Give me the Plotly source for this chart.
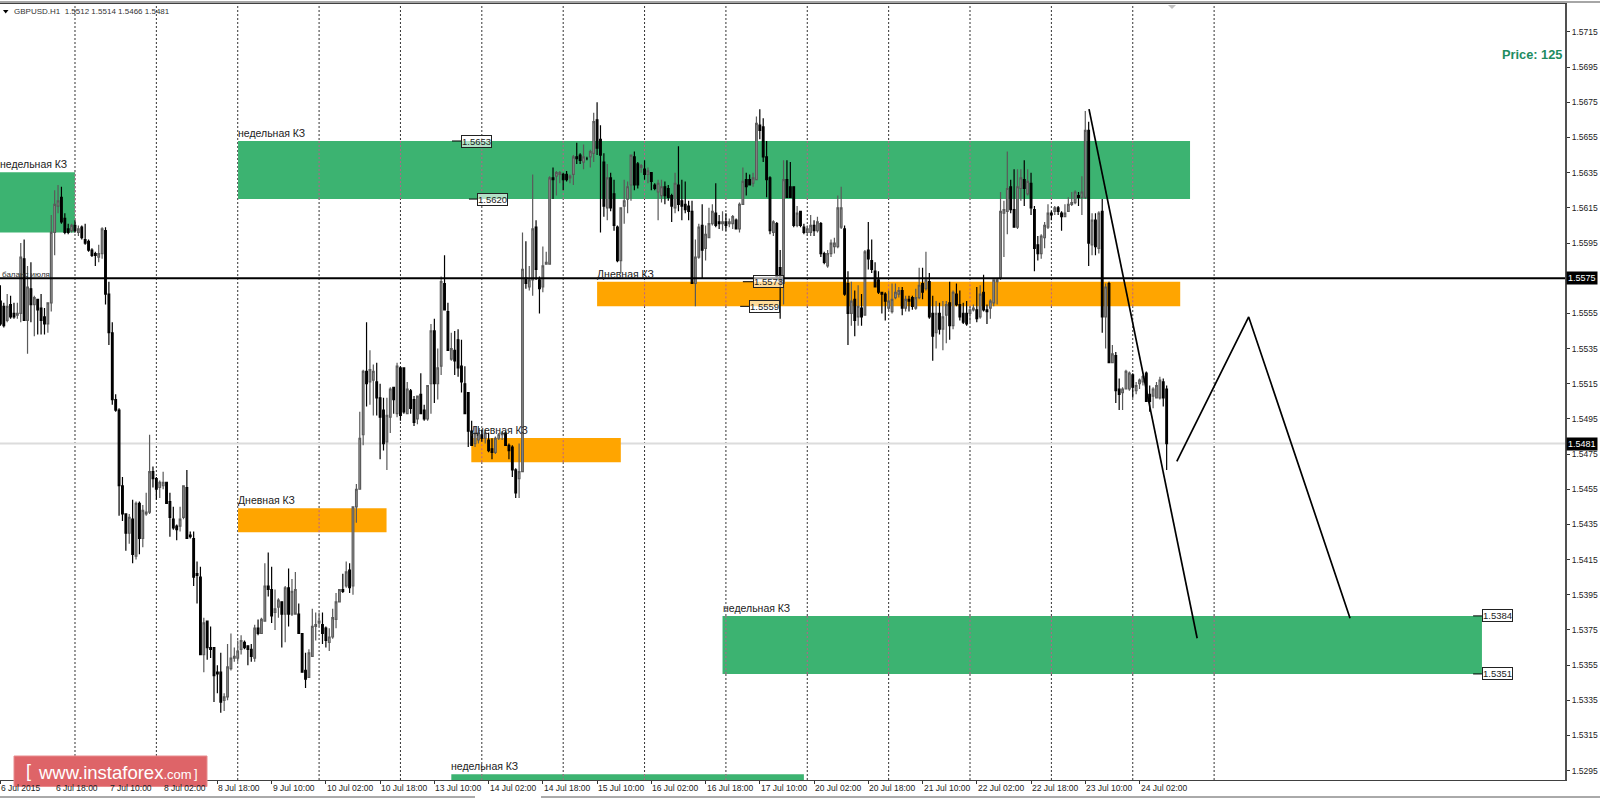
import plotly.graph_objects as go

# Candle values: price digits after the leading 1, e.g. 5562 means 1.5562
opens_raw = [
5562,5559,5551,5560,5555,5554,5555,5586,5551,5569,5560,5563,5558,5553,5549,5561,5601,5616,5621,5609,
5603,5602,5605,5601,5604,5597,5596,5591,5589,5587,5589,5602,5566,5544,5506,5500,5457,5441,5430,5438,
5417,5447,5427,5441,5442,5465,5461,5456,5457,5459,5448,5438,5434,5434,5439,5456,5429,5427,5407,5405,
5361,5380,5365,5365,5351,5351,5335,5337,5353,5359,5359,5364,5368,5366,5364,5359,5376,5373,5380,5400,
5398,5385,5388,5391,5384,5399,5384,5384,5384,5373,5352,5348,5360,5377,5379,5378,5376,5368,5371,5381,
5391,5398,5400,5409,5400,5445,5455,5486,5522,5516,5517,5516,5507,5500,5482,5496,5513,5498,5524,5524,
5498,5511,5506,5495,5509,5500,5495,5515,5545,5515,5525,5572,5556,5529,5534,5540,5525,5515,5510,5488,
5481,5483,5486,5484,5483,5478,5476,5484,5486,5487,5480,5479,5466,5461,5465,5575,5570,5574,5604,5574,
5570,5583,5583,5632,5633,5634,5634,5634,5632,5634,5644,5645,5641,5643,5644,5646,5665,5654,5641,5615,
5632,5623,5604,5585,5616,5620,5628,5644,5640,5638,5637,5634,5635,5628,5624,5622,5627,5626,5622,5615,
5628,5619,5617,5616,5613,5572,5587,5605,5592,5598,5606,5612,5607,5606,5607,5606,5606,5608,5603,5617,
5631,5631,5629,5631,5662,5661,5644,5632,5601,5606,5581,5572,5631,5627,5627,5605,5613,5604,5601,5601,
5605,5602,5606,5589,5582,5589,5593,5593,5604,5603,5572,5555,5563,5553,5558,5554,5591,5585,5579,5574,
5567,5566,5558,5556,5564,5566,5568,5558,5563,5564,5558,5564,5572,5569,5573,5555,5544,5555,5546,5554,
5561,5548,5566,5560,5555,5555,5555,5557,5557,5553,5567,5557,5558,5561,5573,5575,5612,5613,5627,5614,
5604,5626,5631,5623,5629,5614,5594,5589,5598,5604,5612,5613,5615,5612,5610,5613,5617,5618,5622,5621,
5621,5659,5594,5608,5592,5613,5553,5572,5527,5531,5512,5510,5512,5512,5520,5511,5515,5516,5521,5509,
5508,5507,5507,5516,5512]
highs_raw = [
5571,5561,5566,5565,5561,5561,5595,5597,5582,5584,5565,5563,5566,5558,5561,5611,5625,5628,5627,5612,
5606,5606,5608,5605,5605,5606,5597,5592,5590,5594,5604,5604,5573,5550,5509,5501,5462,5441,5441,5449,
5448,5448,5446,5453,5486,5468,5462,5460,5465,5459,5453,5445,5435,5445,5457,5466,5431,5431,5414,5411,
5382,5380,5377,5365,5355,5362,5339,5367,5373,5365,5369,5372,5369,5366,5367,5378,5381,5382,5413,5419,
5411,5398,5393,5391,5400,5410,5404,5408,5390,5373,5362,5364,5387,5385,5385,5385,5377,5376,5387,5396,
5398,5407,5414,5413,5445,5458,5499,5523,5550,5534,5526,5527,5515,5507,5507,5513,5513,5527,5525,5524,
5516,5512,5508,5508,5521,5503,5514,5549,5552,5535,5576,5588,5561,5544,5545,5546,5540,5525,5510,5494,
5491,5491,5489,5489,5487,5484,5485,5487,5488,5488,5481,5480,5467,5481,5601,5596,5582,5634,5608,5576,
5593,5590,5633,5638,5636,5636,5635,5636,5634,5645,5652,5646,5651,5644,5648,5669,5675,5662,5646,5640,
5635,5631,5605,5615,5631,5630,5645,5647,5641,5640,5642,5638,5635,5629,5631,5631,5630,5628,5623,5635,
5650,5631,5630,5619,5619,5597,5606,5617,5605,5615,5617,5629,5611,5613,5612,5609,5611,5609,5618,5638,
5635,5634,5635,5667,5671,5666,5653,5633,5608,5607,5591,5642,5642,5641,5627,5616,5613,5606,5605,5611,
5608,5610,5607,5590,5591,5597,5598,5622,5627,5605,5579,5573,5568,5571,5566,5591,5607,5597,5584,5579,
5567,5567,5568,5572,5572,5570,5570,5565,5565,5565,5569,5581,5581,5590,5578,5565,5562,5561,5562,5562,
5573,5568,5572,5568,5561,5562,5559,5560,5570,5571,5577,5560,5563,5574,5575,5624,5619,5647,5631,5637,
5637,5637,5642,5637,5635,5616,5599,5600,5607,5617,5613,5616,5616,5613,5617,5621,5624,5625,5624,5633,
5670,5664,5612,5612,5613,5620,5572,5573,5537,5533,5518,5513,5523,5522,5521,5516,5518,5520,5522,5514,
5513,5516,5519,5518,5514]
lows_raw = [
5548,5547,5550,5552,5552,5552,5550,5551,5532,5550,5542,5543,5543,5543,5544,5556,5588,5612,5606,5600,
5600,5601,5601,5599,5597,5594,5590,5587,5582,5584,5586,5560,5537,5503,5499,5440,5437,5420,5424,5413,
5415,5418,5422,5440,5441,5456,5449,5450,5455,5447,5428,5432,5426,5431,5438,5427,5427,5400,5390,5361,
5351,5358,5359,5334,5339,5328,5329,5335,5352,5357,5357,5361,5364,5355,5357,5357,5372,5373,5380,5394,
5379,5375,5382,5365,5368,5377,5383,5385,5373,5351,5342,5348,5360,5369,5377,5367,5365,5363,5370,5376,
5391,5396,5399,5396,5395,5436,5455,5480,5502,5503,5497,5497,5472,5477,5466,5487,5498,5496,5494,5498,
5498,5498,5491,5492,5498,5494,5494,5498,5504,5506,5520,5557,5534,5528,5520,5519,5510,5498,5479,5480,
5479,5481,5482,5481,5476,5472,5475,5483,5483,5480,5472,5462,5450,5450,5465,5569,5568,5565,5574,5555,
5567,5583,5583,5620,5622,5629,5625,5630,5629,5628,5640,5640,5637,5642,5638,5641,5645,5601,5610,5608,
5613,5602,5584,5578,5606,5612,5619,5625,5626,5635,5631,5629,5625,5625,5608,5618,5617,5619,5607,5612,
5613,5608,5612,5608,5572,5559,5586,5575,5585,5598,5605,5604,5603,5602,5602,5604,5603,5603,5601,5617,
5622,5628,5627,5631,5654,5641,5621,5600,5599,5574,5552,5560,5621,5622,5604,5604,5604,5600,5599,5599,
5599,5601,5587,5583,5581,5587,5589,5592,5603,5565,5537,5548,5542,5548,5548,5554,5580,5578,5570,5566,
5555,5551,5556,5555,5563,5564,5554,5556,5556,5557,5557,5563,5563,5568,5552,5528,5535,5543,5534,5538,
5540,5546,5559,5551,5549,5548,5550,5556,5550,5552,5556,5549,5552,5559,5560,5574,5587,5600,5612,5604,
5603,5619,5616,5622,5611,5579,5585,5586,5592,5603,5608,5611,5611,5602,5610,5613,5616,5617,5616,5611,
5620,5582,5588,5588,5589,5544,5535,5527,5527,5504,5500,5500,5512,5511,5507,5509,5512,5514,5505,5499,
5501,5507,5506,5502,5466]
closes_raw = [
5549,5548,5559,5553,5553,5555,5587,5551,5570,5560,5564,5557,5551,5549,5561,5601,5617,5619,5607,5601,
5601,5605,5602,5603,5598,5595,5591,5588,5588,5589,5603,5566,5544,5506,5500,5457,5441,5430,5439,5418,
5447,5427,5443,5442,5465,5461,5455,5459,5459,5447,5439,5433,5432,5438,5457,5427,5428,5405,5406,5361,
5379,5365,5364,5349,5350,5334,5337,5354,5359,5360,5363,5369,5365,5364,5360,5376,5373,5381,5400,5398,
5383,5387,5392,5384,5399,5384,5397,5398,5373,5351,5347,5362,5377,5378,5380,5373,5369,5371,5382,5391,
5398,5397,5408,5399,5445,5455,5484,5522,5515,5523,5522,5507,5496,5481,5497,5512,5506,5525,5497,5499,
5512,5501,5493,5508,5498,5495,5514,5545,5515,5524,5573,5557,5534,5535,5528,5524,5516,5498,5488,5480,
5487,5487,5484,5487,5477,5476,5484,5486,5487,5480,5477,5466,5453,5465,5580,5572,5574,5603,5580,5569,
5582,5584,5632,5631,5635,5635,5631,5631,5633,5644,5643,5642,5644,5643,5647,5664,5649,5645,5616,5632,
5615,5605,5585,5615,5619,5627,5645,5628,5628,5639,5634,5636,5630,5626,5629,5627,5622,5621,5616,5629,
5617,5616,5614,5613,5572,5587,5604,5591,5600,5606,5613,5605,5606,5607,5605,5607,5610,5603,5617,5630,
5627,5628,5632,5663,5659,5644,5631,5602,5607,5576,5572,5631,5621,5621,5605,5612,5605,5601,5603,5605,
5602,5607,5589,5584,5589,5595,5595,5615,5615,5566,5555,5562,5551,5559,5553,5590,5586,5580,5570,5567,
5566,5562,5562,5563,5567,5568,5558,5563,5562,5559,5564,5571,5567,5574,5553,5542,5555,5546,5553,5560,
5548,5567,5560,5553,5550,5549,5557,5558,5552,5566,5557,5556,5562,5574,5574,5613,5614,5626,5614,5604,
5627,5632,5626,5630,5615,5592,5589,5599,5605,5612,5611,5615,5613,5610,5612,5617,5618,5624,5621,5624,
5659,5595,5608,5593,5612,5553,5570,5527,5532,5511,5509,5512,5522,5521,5513,5514,5517,5519,5505,5505,
5512,5514,5517,5507,5481]

time_labels = ["6 Jul 2015","6 Jul 18:00","7 Jul 10:00","8 Jul 02:00","8 Jul 18:00","9 Jul 10:00",
               "10 Jul 02:00","10 Jul 18:00","13 Jul 10:00","14 Jul 02:00","14 Jul 18:00","15 Jul 10:00",
               "16 Jul 02:00","16 Jul 18:00","17 Jul 10:00","20 Jul 02:00","20 Jul 18:00","21 Jul 10:00",
               "22 Jul 02:00","22 Jul 18:00","23 Jul 10:00","24 Jul 02:00"]
time_label_bars = [i * 16 for i in range(22)]
day_separator_bars = [22,46,70,94,118,142,166,190,214,238,262,286,310,334,358]
price_ticks = [1.5715,1.5695,1.5675,1.5655,1.5635,1.5615,1.5595,1.5575,1.5555,1.5535,1.5515,1.5495,
               1.5475,1.5455,1.5435,1.5415,1.5395,1.5375,1.5355,1.5335,1.5315,1.5295]

# zones: label, bar start, bar end, price high, price low, colour
zones = [
    ("недельная КЗ", 0.0, 22.0, 1.56353, 1.5601, "#3CB371"),
    ("недельная КЗ", 70.1, 350.9, 1.5653, 1.5620, "#3CB371"),
    ("Дневная КЗ", 70.1, 113.9, 1.54442, 1.54306, "#FFA500"),
    ("Дневная КЗ", 138.9, 183.0, 1.54842, 1.54704, "#FFA500"),
    ("Дневная КЗ", 176.0, 348.0, 1.5573, 1.5559, "#FFA500"),
    ("недельная КЗ", 213.0, 437.0, 1.5383, 1.5350, "#3CB371"),
    ("недельная КЗ", 133.0, 237.0, 1.5293, 1.5285, "#3CB371"),
]
# price notes: text, price, bar of the stub start, bar of the box
price_notes = [("1.5653",1.5653,133.2,135.9),("1.5620",1.5620,138.2,140.6),("1.5573",1.5573,219.0,222.0),
               ("1.5559",1.5559,218.2,220.8),("1.5384",1.5383,434.4,437.0),("1.5351",1.5350,434.4,437.0)]
forecast_a_bars = [321.1, 353.0]
forecast_a_prices = [1.56711, 1.53703]
forecast_b_bars = [347.0, 368.2, 398.1]
forecast_b_prices = [1.54709, 1.5553, 1.53817]
level_price = 1.5575
last_price = 1.5481

opens = [1 + v / 10000 for v in opens_raw]
highs = [1 + v / 10000 for v in highs_raw]
lows = [1 + v / 10000 for v in lows_raw]
closes = [1 + v / 10000 for v in closes_raw]
bars = list(range(len(opens)))

W, H = 1600, 799
ML, MR, MT, MB = 0, 35, 4, 19
PW, PH = W - ML - MR, H - MT - MB
px = lambda x: (x - ML) / PW
py = lambda y: (H - MB - y) / PH
FONT = "Liberation Sans"

fig = go.Figure()
fig.add_trace(go.Candlestick(
    x=bars, open=opens, high=highs, low=lows, close=closes, showlegend=False, hoverinfo="skip",
    whiskerwidth=0,
    increasing=dict(line=dict(color="#5a5a5a", width=1.2), fillcolor="#a8a8a8"),
    decreasing=dict(line=dict(color="#000000", width=1.2), fillcolor="#000000"),
))
for bx, by in ((forecast_a_bars, forecast_a_prices), (forecast_b_bars, forecast_b_prices)):
    fig.add_trace(go.Scatter(x=bx, y=by, mode="lines", showlegend=False, hoverinfo="skip",
                             line=dict(color="#000000", width=1.7)))

shapes = []
annotations = []
for label, x0, x1, p1, p0, color in zones:
    shapes.append(dict(type="rect", layer="below", xref="x", yref="y", x0=x0 if x0 > 0 else -0.12, x1=x1, y0=p0, y1=p1,
                       fillcolor=color, line=dict(width=0)))
    annotations.append(dict(x=x0, y=p1, xref="x", yref="y", text=label, showarrow=False, xanchor="left",
                            yanchor="bottom", xshift=-2, yshift=0, font=dict(family=FONT, size=10.5, color="#222222")))
for b in day_separator_bars:
    shapes.append(dict(type="line", layer="below", xref="x", yref="paper", x0=b, x1=b, y0=0, y1=1,
                       line=dict(color="#333333", width=1, dash="2px,2px")))
    for label, x0, x1, p1, p0, color in zones:
        if x0 <= b <= x1:
            shapes.append(dict(type="line", layer="below", xref="x", yref="y", x0=b, x1=b, y0=p0, y1=p1,
                               line=dict(color="#b8608a", width=1, dash="2px,2px")))
shapes.append(dict(type="line", layer="below", xref="paper", yref="y", x0=0, x1=1, y0=last_price, y1=last_price,
                   line=dict(color="#dcdcdc", width=2)))
shapes.append(dict(type="line", layer="above", xref="paper", yref="y", x0=0, x1=1, y0=level_price, y1=level_price,
                   line=dict(color="#000000", width=2)))
for text, price, stub, box in price_notes:
    shapes.append(dict(type="line", layer="above", xref="x", yref="y", x0=stub, x1=box, y0=price, y1=price,
                       line=dict(color="#000000", width=1)))
    annotations.append(dict(x=box, y=price, xref="x", yref="y", text=text, showarrow=False, xanchor="left",
                            yanchor="middle", bgcolor="rgba(255,255,255,0.6)", bordercolor="#222222", borderwidth=1,
                            borderpad=0, font=dict(family=FONT, size=9.5, color="#222222")))

for b, t in zip(time_label_bars, time_labels):
    annotations.append(dict(x=b, y=py(787.5), xref="x", yref="paper", text=t, showarrow=False, xanchor="left",
                            yanchor="middle", xshift=-1, font=dict(family=FONT, size=8.5, color="#222222")))

for price in (level_price, last_price):
    annotations.append(dict(x=px(1566), y=price, xref="paper", yref="y", text=f"{price:.4f}", showarrow=False,
                            xanchor="left", yanchor="middle", bgcolor="#000000", borderpad=1,
                            font=dict(family=FONT, size=9, color="#ffffff")))

annotations += [
    dict(x=px(0), y=py(274), xref="paper", yref="paper", text="баланс июля", showarrow=False, xanchor="left",
         yanchor="middle", font=dict(family=FONT, size=8, color="#333333")),
    dict(x=px(12), y=py(12), xref="paper", yref="paper", text="GBPUSD.H1  1.5512 1.5514 1.5466 1.5481",
         showarrow=False, xanchor="left", yanchor="middle", font=dict(family=FONT, size=8, color="#333333")),
    dict(x=px(1564), y=py(55), xref="paper", yref="paper", text="<b>Price: 125</b>", showarrow=False,
         xanchor="right", yanchor="middle", font=dict(family=FONT, size=12.8, color="#1E8C5F")),
    dict(x=px(36), y=py(772), xref="paper", yref="paper",
         text='www.instaforex<span style="font-size:13px">.com</span>', showarrow=False, xanchor="left",
         yanchor="middle", font=dict(family=FONT, size=18.5, color="#ffffff")),
    dict(x=px(24), y=py(771), xref="paper", yref="paper", text="[", showarrow=False, xanchor="left",
         yanchor="middle", font=dict(family=FONT, size=18, color="#ffffff")),
    dict(x=px(192), y=py(773), xref="paper", yref="paper", text="]", showarrow=False, xanchor="left",
         yanchor="middle", font=dict(family=FONT, size=13, color="#ffffff")),
]

shapes += [
    dict(type="rect", layer="above", xref="paper", yref="paper", x0=px(14), x1=px(207), y0=py(786.5), y1=py(756),
         fillcolor="#DE6468", line=dict(color="#e88c8e", width=1)),
    dict(type="rect", layer="above", xref="paper", yref="paper", x0=px(0), x1=1.03, y0=py(3), y1=py(1),
         fillcolor="#a6a6a6", line=dict(width=0)),
    dict(type="line", layer="above", xref="paper", yref="paper", x0=px(0), x1=px(475), y0=py(797), y1=py(797),
         line=dict(color="#555555", width=1)),
    dict(type="line", layer="above", xref="paper", yref="paper", x0=px(541), x1=1.03, y0=py(797), y1=py(797),
         line=dict(color="#555555", width=1)),
    dict(type="path", layer="above", xref="paper", yref="paper",
         path=f"M {px(3)} {py(10)} L {px(8.5)} {py(10)} L {px(5.7)} {py(13.5)} Z", fillcolor="#000000", line=dict(width=0)),
    dict(type="path", layer="above", xref="paper", yref="paper",
         path=f"M {px(1168)} {py(5)} L {px(1176)} {py(5)} L {px(1172)} {py(9)} Z", fillcolor="#c0c0c0", line=dict(width=0)),
]

price_ticktext = ["" if abs(t - level_price) < 1e-6 else f"{t:.4f}" for t in price_ticks]

fig.update_layout(
    width=W, height=H, margin=dict(l=ML, r=MR, t=MT, b=MB), paper_bgcolor="#ffffff", plot_bgcolor="#ffffff",
    shapes=shapes, annotations=annotations, hovermode=False,
    xaxis=dict(range=[-0.12, 461.5], rangeslider=dict(visible=False), tickmode="array", tickvals=time_label_bars,
               ticktext=[""] * len(time_label_bars), ticks="outside", ticklen=3, tickcolor="#333333", showgrid=False,
               zeroline=False, showline=True, linecolor="#404040", linewidth=1, mirror=True),
    yaxis=dict(range=[1.52897, 1.57309], side="right", tickmode="array", tickvals=price_ticks,
               ticktext=price_ticktext, ticks="outside", ticklen=3, tickcolor="#333333", showgrid=False, zeroline=False,
               showline=True, linecolor="#505050", linewidth=2,
               tickfont=dict(family=FONT, size=8.5, color="#222222")),
)
fig.write_html("out.html", config=dict(displayModeBar=False),
               post_script="document.body.style.margin='0';document.body.style.overflow='hidden';")
